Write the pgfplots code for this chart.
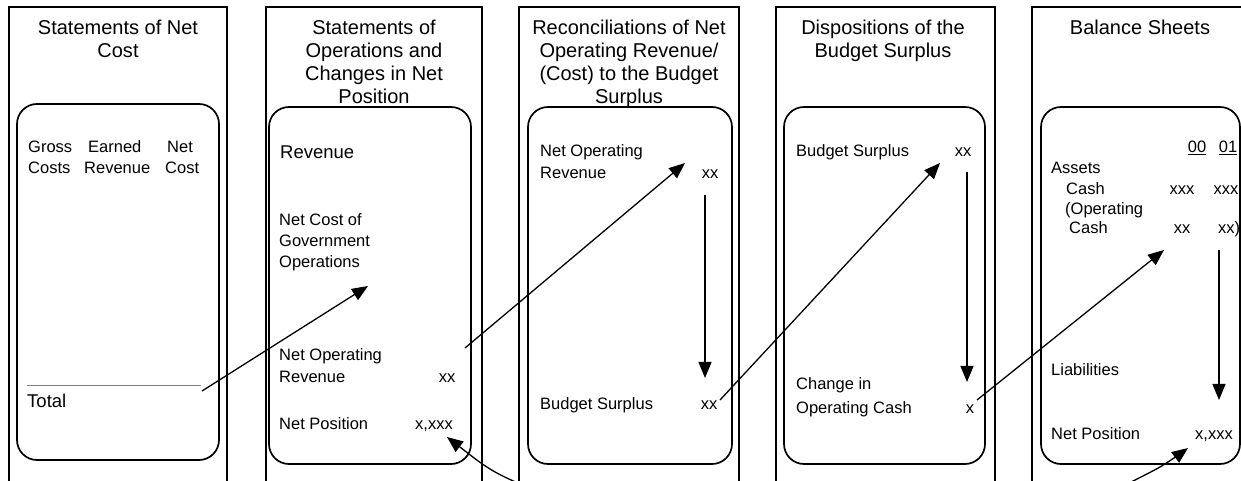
\documentclass[border=0pt]{standalone}
\usepackage{pgfplots}
\pgfplotsset{compat=1.18}
\usepackage{fontspec}
\setmainfont{Liberation Sans}
\usetikzlibrary{arrows.meta}
\newcommand{\bodyf}{\fontsize{16.5bp}{20bp}\selectfont}
\newcommand{\bigf}{\fontsize{18.5bp}{22bp}\selectfont}
\newcommand{\ttlf}{\fontsize{20bp}{24bp}\selectfont}
\begin{document}
\begin{tikzpicture}[
  tx/.style={anchor=base west, inner sep=0pt, font=\bodyf},
  tb/.style={anchor=base west, inner sep=0pt, font=\bigf},
  tc/.style={anchor=base, inner sep=0pt, font=\bodyf},
  tt/.style={anchor=base, inner sep=0pt, font=\ttlf},
  bx/.style={black, line width=1.7bp, mark=none},
  ar/.style={black, line width=1.3bp, mark=none, -{Triangle[length=16bp,width=13bp]}},
]
\begin{axis}[
  x=1bp, y=1bp, xmin=0, xmax=1241, ymin=0, ymax=481,
  y dir=reverse, hide axis, clip=true,
  cycle list={{black,mark=none}},
]
% outer panels (open at bottom)
\addplot[bx] coordinates {(9,490) (9,7) (227,7) (227,490)};
\addplot[bx] coordinates {(266,490) (266,7) (482,7) (482,490)};
\addplot[bx] coordinates {(519,490) (519,7) (739,7) (739,490)};
\addplot[bx] coordinates {(776,490) (776,7) (995,7) (995,490)};
\addplot[bx] coordinates {(1032,490) (1032,7) (1260,7)};
% inner rounded boxes (start mid top edge)
\addplot[bx, rounded corners=20bp] coordinates {(118,104) (219,104) (219,460) (17,460) (17,104) (118,104)};
\addplot[bx, rounded corners=20bp] coordinates {(370,107) (471,107) (471,464) (269,464) (269,107) (370,107)};
\addplot[bx, rounded corners=20bp] coordinates {(630,107) (732,107) (732,464) (528,464) (528,107) (630,107)};
\addplot[bx, rounded corners=20bp] coordinates {(885,107) (985,107) (985,464) (784,464) (784,107) (885,107)};
\addplot[bx, rounded corners=20bp] coordinates {(1140,107) (1240,107) (1240,464) (1041,464) (1041,107) (1140,107)};
% total rule
\addplot[gray, line width=0.8bp, mark=none] coordinates {(27,385) (201,385)};
% arrows
\addplot[ar] coordinates {(202,391) (368,286)};
\addplot[ar] coordinates {(465,348) (685,163)};
\addplot[ar] coordinates {(705,195) (705,378)};
\addplot[ar] coordinates {(720,400) (940,163)};
\addplot[ar] coordinates {(967,172) (967,382)};
\addplot[ar] coordinates {(977,400) (1164,250)};
\addplot[ar] coordinates {(1219,250) (1219,400)};
\addplot[black, line width=1.3bp, mark=none, {Triangle[length=16bp,width=13bp]}-, smooth] coordinates {(447,437) (490,469) (520,484)};
\addplot[ar, smooth] coordinates {(1115,490) (1160,467) (1188,448)};
% titles
\node[tt] at (axis cs:118,35) {Statements of Net};
\node[tt] at (axis cs:118,58) {Cost};
\node[tt] at (axis cs:374,35) {Statements of};
\node[tt] at (axis cs:374,58) {Operations and};
\node[tt] at (axis cs:374,81) {Changes in Net};
\node[tt] at (axis cs:374,104) {Position};
\node[tt] at (axis cs:629,35) {Reconciliations of Net};
\node[tt] at (axis cs:629,58) {Operating Revenue/};
\node[tt] at (axis cs:629,81) {(Cost) to the Budget};
\node[tt] at (axis cs:629,104) {Surplus};
\node[tt] at (axis cs:883,35) {Dispositions of the};
\node[tt] at (axis cs:883,58) {Budget Surplus};
\node[tt] at (axis cs:1140,35) {Balance Sheets};
% panel 1
\node[tx] at (axis cs:28,153) {Gross};
\node[tx] at (axis cs:88,153) {Earned};
\node[tx] at (axis cs:167,153) {Net};
\node[tx] at (axis cs:28,174) {Costs};
\node[tx] at (axis cs:84,174) {Revenue};
\node[tx] at (axis cs:165,174) {Cost};
\node[tb] at (axis cs:27,407) {Total};
% panel 2
\node[tb] at (axis cs:280,159) {Revenue};
\node[tx] at (axis cs:279,226) {Net Cost of};
\node[tx] at (axis cs:279,247) {Government};
\node[tx] at (axis cs:279,268) {Operations};
\node[tx] at (axis cs:279,361) {Net Operating};
\node[tx] at (axis cs:279,383) {Revenue};
\node[tc] at (axis cs:447,383) {xx};
\node[tx] at (axis cs:279,429) {Net Position};
\node[tc] at (axis cs:434,429) {x,xxx};
% panel 3
\node[tx] at (axis cs:540,157) {Net Operating};
\node[tx] at (axis cs:540,179) {Revenue};
\node[tc] at (axis cs:710,179) {xx};
\node[tx] at (axis cs:540,409) {Budget Surplus};
\node[tc] at (axis cs:709,409) {xx};
% panel 4
\node[tx] at (axis cs:796,157) {Budget Surplus};
\node[tc] at (axis cs:963,157) {xx};
\node[tx] at (axis cs:796,389) {Change in};
\node[tx] at (axis cs:796,413) {Operating Cash};
\node[tc] at (axis cs:970,413) {x};
% panel 5
\node[tc] at (axis cs:1197,153) {\underline{00}};
\node[tc] at (axis cs:1228,153) {\underline{01}};
\node[tx] at (axis cs:1051,174) {Assets};
\node[tx] at (axis cs:1066,195) {Cash};
\node[tc] at (axis cs:1182,195) {xxx};
\node[tc] at (axis cs:1226,195) {xxx};
\node[tx] at (axis cs:1065,215) {(Operating};
\node[tx] at (axis cs:1069,234) {Cash};
\node[tc] at (axis cs:1182,234) {xx};
\node[tc] at (axis cs:1229,234) {xx)};
\node[tx] at (axis cs:1051,376) {Liabilities};
\node[tx] at (axis cs:1051,439) {Net Position};
\node[tc] at (axis cs:1214,439) {x,xxx};
\end{axis}
\pgfresetboundingbox
\path (current axis.south west) rectangle (current axis.north east);
\end{tikzpicture}
\end{document}
